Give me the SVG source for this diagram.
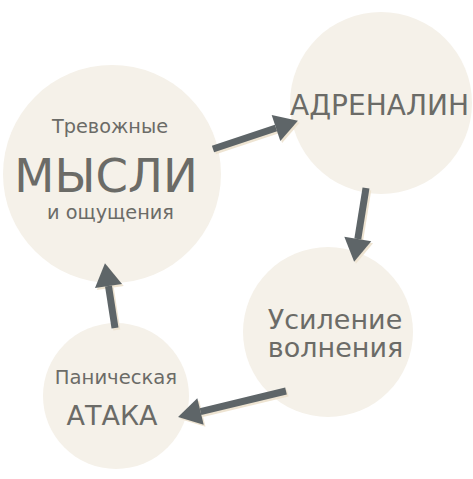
<svg xmlns="http://www.w3.org/2000/svg" width="473" height="479" viewBox="0 0 473 479">
<style>
.node circle{fill:#f5f1e9}
text{font-family:"DejaVu Sans","Verdana",sans-serif;fill:#6b6b67;text-anchor:middle}
.conn line{stroke:#5e6568;stroke-width:7;fill:none}
.shadow line{stroke:#eee4d2;stroke-width:7;fill:none}
</style>
<defs>
<marker id="ah" markerUnits="strokeWidth" markerWidth="3.4" markerHeight="3.9" refX="0" refY="1.95" orient="auto" overflow="visible">
<path d="M0,0 L3.3,1.95 L0,3.9 z" fill="#5e6568"/>
</marker>
<marker id="ahs" markerUnits="strokeWidth" markerWidth="3.4" markerHeight="3.9" refX="0" refY="1.95" orient="auto" overflow="visible">
<path d="M0,0 L3.3,1.95 L0,3.9 z" fill="#eee4d2"/>
</marker>
</defs>
<g id="node-thoughts" class="node">
<circle cx="112" cy="174" r="109"/>
<text x="110" y="133" font-size="19.3">Тревожные</text>
<text x="106" y="192" font-size="46.5">МЫСЛИ</text>
<text x="110.5" y="219" font-size="19.3">и ощущения</text>
</g>
<g id="node-adrenaline" class="node">
<circle cx="381" cy="103" r="91"/>
<text x="379.5" y="115" font-size="28">АДРЕНАЛИН</text>
</g>
<g id="node-anxiety" class="node">
<circle cx="328" cy="332" r="85"/>
<text x="335" y="329" font-size="27">Усиление</text>
<text x="335.5" y="357" font-size="27">волнения</text>
</g>
<g id="node-panic" class="node">
<circle cx="116" cy="396" r="73"/>
<text x="116" y="384" font-size="19.6">Паническая</text>
<text x="112" y="425" font-size="27">АТАКА</text>
</g>
<g id="connectors">
<g class="shadow" transform="translate(1.8,2)">
<line x1="213" y1="149" x2="276" y2="128" marker-end="url(#ahs)"/>
<line x1="366" y1="188" x2="357.8" y2="239" marker-end="url(#ahs)"/>
<line x1="286" y1="391" x2="200.5" y2="411.6" marker-end="url(#ahs)"/>
<line x1="115" y1="328" x2="108.5" y2="286" marker-end="url(#ahs)"/>
</g>
<g class="conn">
<line x1="213" y1="149" x2="276" y2="128" marker-end="url(#ah)"/>
<line x1="366" y1="188" x2="357.8" y2="239" marker-end="url(#ah)"/>
<line x1="286" y1="391" x2="200.5" y2="411.6" marker-end="url(#ah)"/>
<line x1="115" y1="328" x2="108.5" y2="286" marker-end="url(#ah)"/>
</g>
</g>
</svg>
